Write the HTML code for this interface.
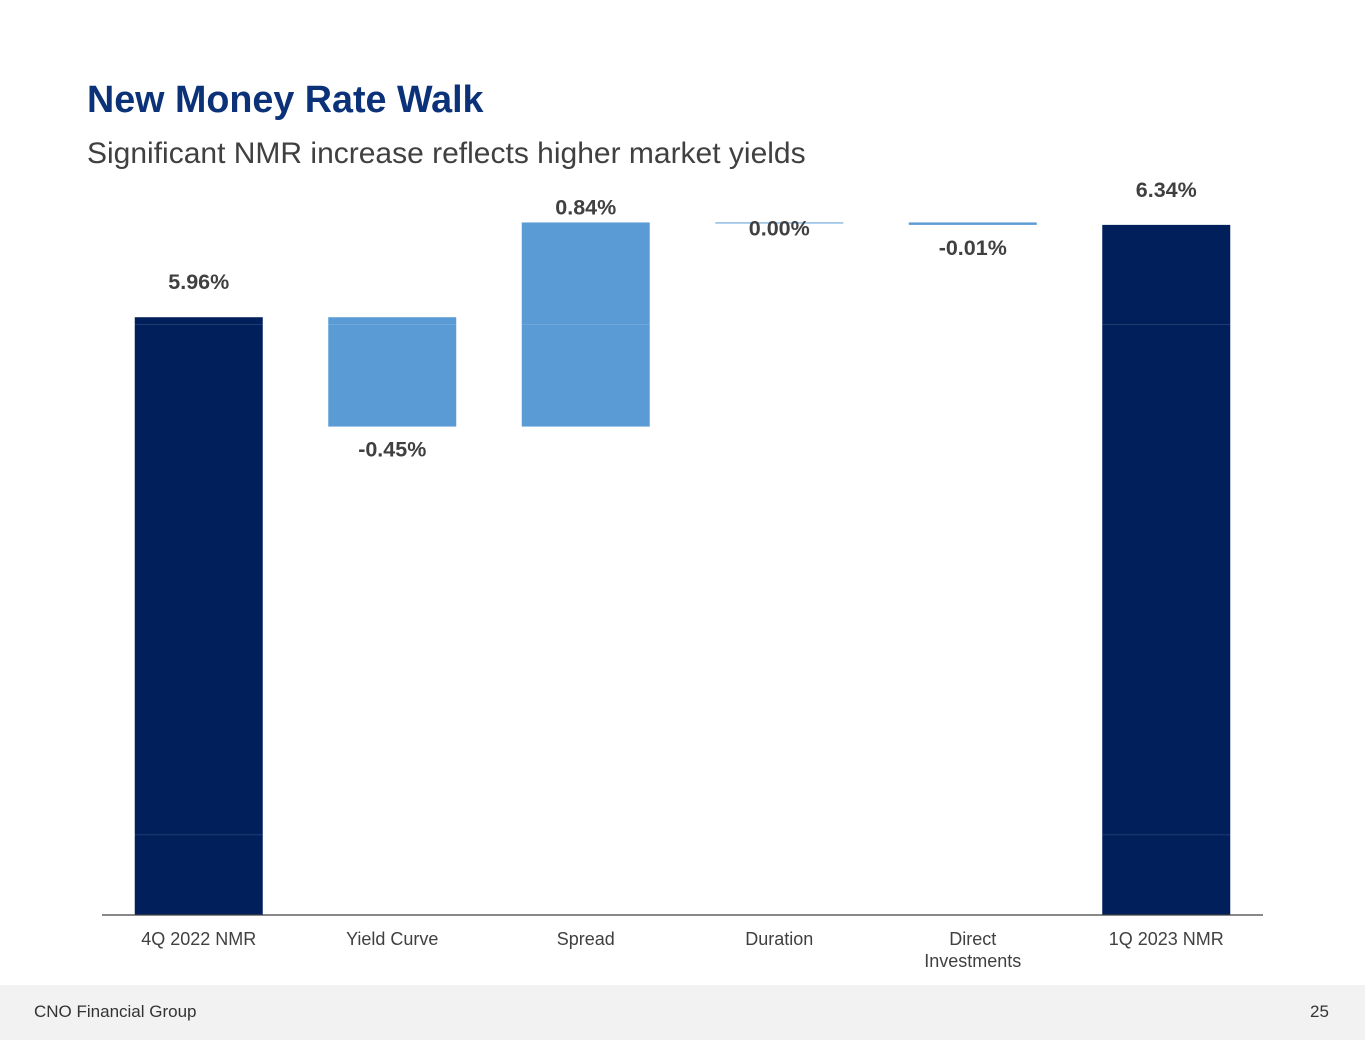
<!DOCTYPE html>
<html><head><meta charset="utf-8"><style>
body{margin:0;width:1365px;height:1055px;background:#fff;font-family:"Liberation Sans",Arial,sans-serif;position:relative;overflow:hidden}
#title{position:absolute;left:87px;top:78px;font-size:37.7px;font-weight:bold;color:#0b3278;margin:0}
#sub{position:absolute;left:87px;top:137px;font-size:30px;color:#404040}
#footer{position:absolute;left:0;top:985px;width:1365px;height:55px;background:#f2f2f2}
#footer span{position:absolute;top:17px;font-size:17px;color:#333}
svg{position:absolute;left:0;top:0}
</style></head><body>
<h1 id="title">New Money Rate Walk</h1>
<div id="sub">Significant NMR increase reflects higher market yields</div>
<svg id="chart" width="1365" height="1000"></svg>
<div id="footer">
<span style="left:34px">CNO Financial Group</span>
<span style="left:1310px">25</span>
</div>
<script>
const categories=["4Q 2022 NMR","Yield Curve","Spread","Duration","Direct|Investments","1Q 2023 NMR"];
const values=[5.96,-0.45,0.84,0.00,-0.01,6.34];
const isTotal=[true,false,false,false,false,true];
const valueLabels=["5.96%","-0.45%","0.84%","0.00%","-0.01%","6.34%"];
const gridValues=[5.93,3.83];
const axisMin=3.5, pxPer=243, baseY=915, plotL=102, plotR=1263;
const NS="http://www.w3.org/2000/svg";
const svg=document.getElementById('chart');
const y=v=>baseY-(v-axisMin)*pxPer;
const step=(plotR-plotL)/categories.length;
const xc=i=>plotL+step*(i+0.5);
function mk(t,a){const e=document.createElementNS(NS,t);for(const k in a)e.setAttribute(k,a[k]);svg.appendChild(e);return e;}
let cum=0;
categories.forEach((c,i)=>{
 let top,bot;
 if(isTotal[i]){top=y(values[i]);bot=baseY;cum=values[i];}
 else{const s=cum,e=cum+values[i];top=y(Math.max(s,e));bot=y(Math.min(s,e));cum=e;}
 const h=Math.max(bot-top,1);
 const r=mk('rect',{x:xc(i)-64,y:top,width:128,height:h,fill:isTotal[i]?'#001f5b':'#5b9bd5'});
 
 
 let ly;
 if(isTotal[i]) ly=top-28;
 else if(values[i]>0) ly=top-8;
 else if(values[i]===0) ly=bot+13;
 else ly=bot+30;
 const t=mk('text',{x:xc(i),y:ly,'text-anchor':'middle','font-size':21.5,'font-weight':'bold',fill:'#404040'});
 t.textContent=valueLabels[i];
 
 
 c.split('|').forEach((ln,j)=>{
  const tt=mk('text',{x:xc(i),y:945+j*22,'text-anchor':'middle','font-size':18,fill:'#404040'});
  tt.textContent=ln;
  
  
 });
});
gridValues.forEach(g=>{
 const l=mk('line',{x1:plotL,x2:plotR,y1:y(g),y2:y(g),stroke:'#ffffff','stroke-opacity':0.12,'stroke-width':1});
 
 
});
const ax=mk('line',{x1:plotL,x2:plotR,y1:baseY,y2:baseY,stroke:'#404040','stroke-width':1.3});


</script>
</body></html>
